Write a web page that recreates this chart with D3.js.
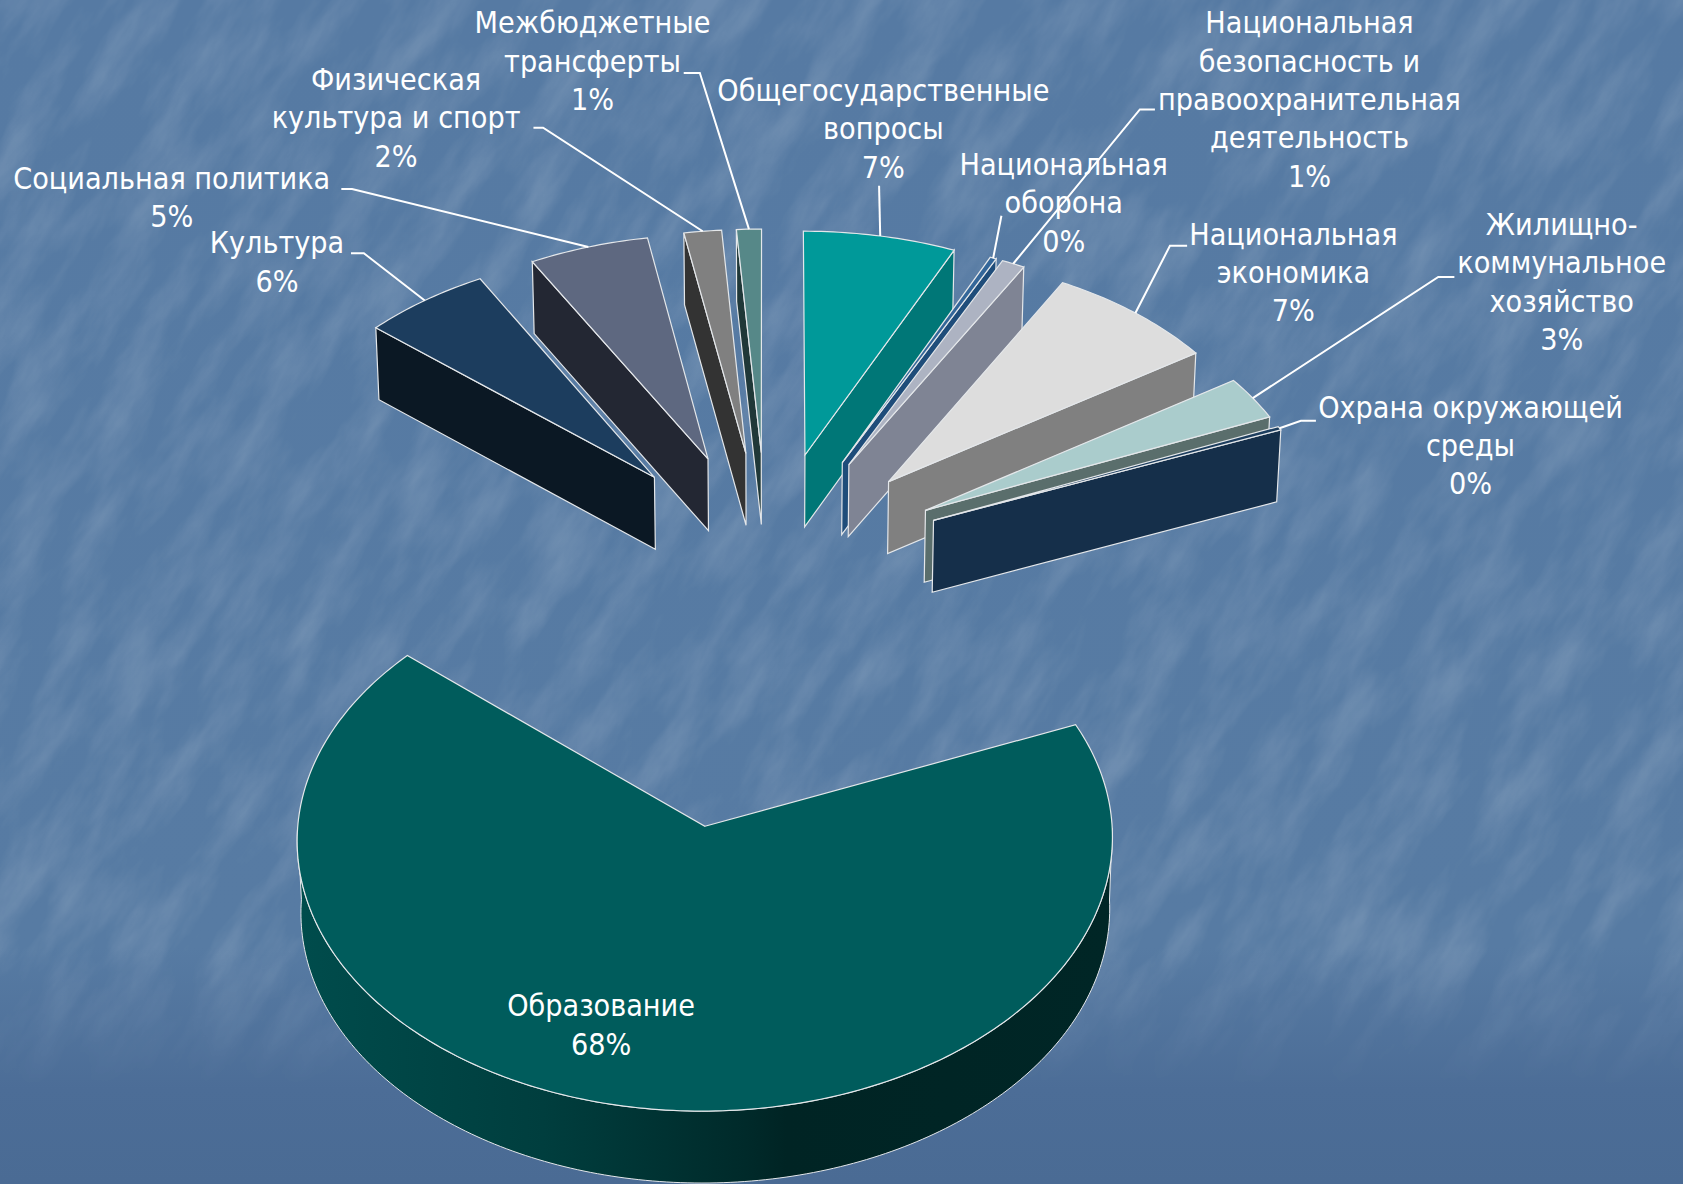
<!DOCTYPE html>
<html><head><meta charset="utf-8">
<script src="https://cdnjs.cloudflare.com/ajax/libs/d3/7.8.5/d3.min.js"></script>
<style>html,body{margin:0;padding:0;background:#5a7ba3}svg{display:block}</style></head>
<body><svg id="c" width="1683" height="1184"></svg>
<script>
// DATA
const categories=["Общегосударственные вопросы","Национальная оборона","Национальная безопасность и правоохранительная деятельность","Национальная экономика","Жилищно-коммунальное хозяйство","Охрана окружающей среды","Образование","Культура","Социальная политика","Физическая культура и спорт","Межбюджетные трансферты"];
const values=[6.75,0.28,1.02,7.55,2.9,0.25,67.55,5.64,5.3,1.66,1.1];
const percentLabels=["7%","0%","1%","7%","3%","0%","68%","6%","5%","2%","1%"];
const explode=[.468,.468,.468,.468,.468,.468,1.03,.468,.468,.468,.468];
// LABEL LINE BREAKS
const labelLines=[["Общегосударственные","вопросы"],["Национальная","оборона"],["Национальная","безопасность и","правоохранительная","деятельность"],["Национальная","экономика"],["Жилищно-","коммунальное","хозяйство"],["Охрана окружающей","среды"],["Образование"],["Культура"],["Социальная политика"],["Физическая","культура и спорт"],["Межбюджетные","трансферты"]];
// STYLE (reference is laid out at 1568 wide, multiplied by k)
const k=1683/1568;
const topFill=["#009999","#336699","#adb3c2","#dddddd","#aacccc","#1c3d5e","#005c5c","#1c3d5e","#5e6880","#808080","#568888"];
const wallFill=["#007777","#1f4d7a","#7f8494","#808080","#5a6e6c","#152f4a","#003c3c","#0b1824","#232733","#333333","#203838"];
const sliceShiftX=[0,0,0,0,0,0,3.5,0,0,0,0];
const labelCx=[823,991,1220,1205,1455,1370,560,258,160,369,552];
const labelTop=[85,154,22,219,210,380,938,227,167,75,22];
const elbow=[null,null,[[1076,102],[1062,102]],[[1106,229],[1090,229]],[[1355,258],[1340,258]],[[1226,392],[1212,392]],null,[[327,236],[339,236]],[[318,176],[328,176]],[[497,119],[506,119]],[[637,68],[652,68]]];
const leaderStart=[[819,173],[933,201],null,null,null,null,null,null,null,null,null];
const cx=715,cy=526,A=362,B=228,px=.045,py=.048,H=67;
const lineH=35.7,fontSize=30.2;

const svg=d3.select("#c");
const defs=svg.append("defs");
const bg=defs.append("linearGradient").attr("id","bg").attr("x1",0).attr("x2",0).attr("y1",0).attr("y2",1);
[[0,"#567aa3"],[.8,"#577ba3"],[.92,"#4c6d97"],[1,"#4a6b94"]].forEach(s=>bg.append("stop").attr("offset",s[0]).attr("stop-color",s[1]));
const f=defs.append("filter").attr("id","tex").attr("x",0).attr("y",0).attr("width","100%").attr("height","100%");
f.append("feTurbulence").attr("type","fractalNoise").attr("baseFrequency","0.009 0.028").attr("numOctaves",5).attr("seed",11);
f.append("feColorMatrix").attr("type","matrix").attr("values","0 0 0 0 1  0 0 0 0 1  0 0 0 0 1  2 0 0 0 -.72");
const fade=defs.append("linearGradient").attr("id","fade").attr("x1",0).attr("x2",0).attr("y1",0).attr("y2",1);
[[0,"#fff"],[.8,"#fff"],[.92,"#000"],[1,"#000"]].forEach(s=>fade.append("stop").attr("offset",s[0]).attr("stop-color",s[1]));
defs.append("mask").attr("id","fm").attr("maskUnits","userSpaceOnUse").attr("x",0).attr("y",0).attr("width",1683).attr("height",1184)
 .append("rect").attr("width",1683).attr("height",1184).attr("fill","url(#fade)");
const wg=defs.append("linearGradient").attr("id","wall").attr("gradientUnits","userSpaceOnUse")
 .attr("x1",300).attr("x2",1110).attr("y1",0).attr("y2",0);
[[0,"#004c4c"],[.3,"#003e3e"],[.55,"#002a2a"],[.6,"#002424"],[1,"#002626"]].forEach(s=>wg.append("stop").attr("offset",s[0]).attr("stop-color",s[1]));

svg.append("rect").attr("width",1683).attr("height",1184).attr("fill","url(#bg)");
svg.append("g").attr("mask","url(#fm)").append("g").attr("transform","rotate(-58 841 592)").attr("opacity",.14)
 .append("rect").attr("x",-900).attr("y",-900).attr("width",3500).attr("height",3000).attr("filter","url(#tex)");

const pie=d3.pie().sort(null).value(d=>d)(values);
// ground plane to screen
function proj(X,Y,low){
  let sx=cx+A*X/(1+px*Y), sy=cy-B*Y/(1+py*Y);
  if(low){sx=cx+(sx-cx)*.992; sy+=H;}
  return [sx,sy];
}
const line=d3.line();
function pt(d,i,a,r,low){const e=explode[i],m=(d.startAngle+d.endAngle)/2;
  const p=proj(e*Math.sin(m)+r*Math.sin(a),e*Math.cos(m)+r*Math.cos(a),low);
  return [(p[0]+sliceShiftX[i])*k,p[1]*k];}
const order=pie.map((d,i)=>i).sort((u,v)=>{
  const c=d=>Math.cos((d.startAngle+d.endAngle)/2)*explode[pie.indexOf(d)];
  return c(pie[v])-c(pie[u]);});
const slices=svg.append("g");
const lead=svg.append("g").attr("fill","none").attr("stroke","#fff").attr("stroke-width",2);
const stroke="#e4e7ea";
order.forEach(i=>{
  const d=pie[i],a0=d.startAngle,a1=d.endAngle,m=(a0+a1)/2,n=Math.max(2,Math.ceil((a1-a0)*60));
  const angs=d3.range(n+1).map(t=>a0+(a1-a0)*t/n);
  const g=slices.append("g");
  const vis=angs.filter(a=>Math.cos(a)<=0);
  if(vis.length>1){
    const poly=vis.map(a=>pt(d,i,a,1,false)).concat(vis.slice().reverse().map(a=>pt(d,i,a,1,true)));
    g.append("path").attr("d",line(poly)+"Z").attr("fill","url(#wall)").attr("stroke",stroke).attr("stroke-width",1);
  }
  const apex=pt(d,i,0,0,false),apexL=pt(d,i,0,0,true),c=pt(d,i,m,.6,false);
  [a0,a1].forEach(a=>{
    const q=pt(d,i,a,1,false),qL=pt(d,i,a,1,true);
    if(Math.abs(q[0]-apex[0])<2) return;
    const yl=apex[1]+(q[1]-apex[1])*(c[0]-apex[0])/(q[0]-apex[0]);
    if(c[1]<yl+.01)
      g.append("path").attr("d",line([apex,q,qL,apexL])+"Z").attr("fill",wallFill[i]).attr("stroke",stroke).attr("stroke-width",1.2);
  });
  g.append("path").attr("d",line([apex].concat(angs.map(a=>pt(d,i,a,1,false))))+"Z").attr("fill",topFill[i]).attr("stroke",stroke).attr("stroke-width",1.2);
  if(i===6) return;
  const end=pt(d,i,m,1,false);
  const head=(elbow[i]||[leaderStart[i]]).map(p=>[p[0]*k,p[1]*k]);
  lead.append("path").attr("d",line(head.concat([end])));
});
const tg=svg.append("g").attr("fill","#fff").attr("text-anchor","middle")
 .style("font-family","'DejaVu Sans'").style("font-stretch","condensed").style("font-size",fontSize+"px");
categories.forEach((cat,i)=>{
  const ls=labelLines[i].concat([percentLabels[i]]);
  ls.forEach((t,j)=>tg.append("text").attr("x",labelCx[i]*k).attr("y",(labelTop[i]+j*lineH)*k).attr("dy","0.32em").text(t));
});
</script></body></html>
